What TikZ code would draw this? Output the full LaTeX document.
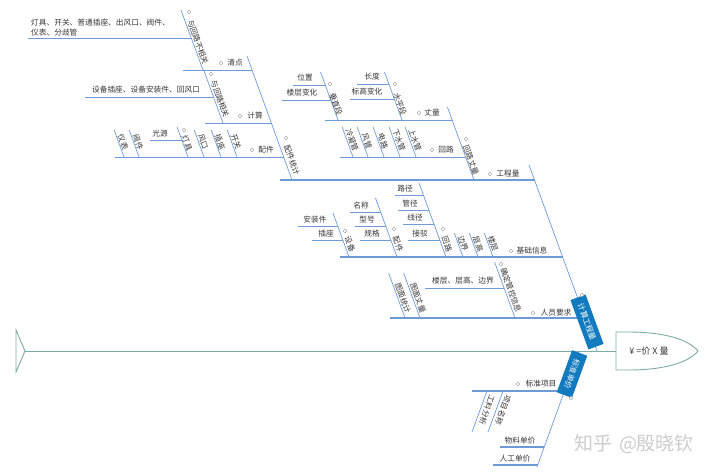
\documentclass[tikz,border=0pt]{standalone}
\usepackage{fontspec}
\newfontfamily\cjk{Noto Sans CJK SC}
\usetikzlibrary{calc}
\definecolor{lb}{RGB}{110,155,215}
\definecolor{spinec}{RGB}{125,170,165}
\definecolor{tagc}{RGB}{18,122,190}
\definecolor{tx}{RGB}{55,55,55}
\definecolor{dotc}{RGB}{150,150,150}
\definecolor{wm}{RGB}{205,205,205}
\tikzset{
 hb/.style={draw=lb, line width=0.7pt},
 hbm/.style={draw=lb, line width=1.1pt},
 lbl/.style={font=\cjk\fontsize{7.7}{10}\selectfont, text=tx, inner sep=0pt},
 dl/.style={lbl, rotate=-70},
 dlo/.style={lbl, rotate=-110},
 dot/.style={circle, draw=dotc, fill=white, line width=0.4pt, minimum size=3.6pt, inner sep=0pt},
 tagbox/.style={fill=tagc, text=white, font=\cjk\fontsize{7.7}{10}\selectfont, inner xsep=7pt, inner ysep=4.5pt},
}
\begin{document}
\begin{tikzpicture}[x=1pt,y=-1pt]
\fill[white] (0,0) rectangle (720,475);
\useasboundingbox (0,0) rectangle (720,475);

% ---------- spine, tail, head
\draw[draw=spinec, line width=0.9pt] (16,330) -- (25,351) -- (16,372) -- cycle;
\coordinate (tail) at (25,351);
\coordinate (neck) at (616,351);
\draw[draw=spinec, line width=1pt] (tail) -- (neck);
\draw[draw=spinec, line width=0.9pt, fill=white] (616,332) -- (628,332) .. controls (666,332) and (689,340) .. (698,351) .. controls (689,362) and (666,370) .. (628,370) -- (616,370) -- cycle;
\node[font=\cjk\fontsize{9}{10}\selectfont, text=tx] (head) at (649,351) {¥ =价 X 量};

% ---------- watermark
\node[font=\cjk\fontsize{19}{20}\selectfont, text=wm] (wmk) at (634,444) {知乎\hspace{7pt}@殷晓钦};

% ---------- upper bone
\coordinate (ubT) at (529,165);
\coordinate (ubB) at (597,351);
\draw[hb] (ubT) -- (ubB);

% level-1 horizontals
\draw[hbm] (280,180) -- (534.5,180);
\draw[hbm] (340,257) -- (562.5,257);
\draw[hbm] (390,318) -- (584.7,318);
\node[lbl] (gcl) at (508,174) {工程量};
\node[lbl] (jcxx) at (532,251) {基础信息};
\node[lbl] (ryyq) at (556,313) {人员要求};

% ===== under 工程量
\draw[hb] (247,56) -- (292,180);
\node[dl] (pjtj) at (292,160) {配件统计};
\draw[hb] (447.4,107) -- (474,180);
\node[dl] (hlzl) at (471,160) {回路丈量};

% under 配件统计
\draw[hb] (183,70) -- (252,70);
\node[lbl] (qd) at (235,63) {清点};
\draw[hb] (205,123) -- (271.4,123);
\node[lbl] (js) at (255,116) {计算};
\draw[hb] (115,157) -- (283.8,157);
\node[lbl] (pj) at (266,150) {配件};

\draw[hb] (181,10) -- (203,70);
\node[dl] (bxg) at (198,42) {与回路不相关};
\draw[hb] (28,38) -- (191.4,38);
\node[lbl, align=left, anchor=south west] (bxgl) at (31,36.5) {灯具、开关、普通插座、出风口、阀件、\\仪表、分歧管};

\draw[hb] (203.7,70) -- (223,123);
\node[dl] (xg) at (220,99) {与回路相关};
\draw[hb] (85,97) -- (213.5,97);
\node[lbl] (xgl) at (146,90) {设备插座、设备安装件、回风口};

\draw[hb] (227.2,130) -- (237,157);
\node[dl] (kg) at (236,142) {开关};
\draw[hb] (211.2,130) -- (221,157);
\node[dl] (cz) at (220,142) {插座};
\draw[hb] (194.2,130) -- (204,157);
\node[dl] (fk) at (203,142) {风口};
\draw[hb] (177.1,127) -- (188,157);
\node[dl] (dj) at (187,143) {灯具};
\draw[hb] (150,140) -- (181.8,140);
\node[lbl] (gy) at (160,134) {光源};
\draw[hb] (129.2,130) -- (139,157);
\node[dl] (fj) at (138,142) {阀件};
\draw[hb] (114.2,130) -- (124,157);
\node[dl] (yb) at (123,142) {仪表};

% under 回路丈量
\draw[hb] (325,120) -- (452,120);
\node[lbl] (zl) at (432,113) {丈量};
\draw[hb] (340,157) -- (465.6,157);
\node[lbl] (hl) at (446,150) {回路};

\draw[hb] (320.5,72) -- (338,120);
\node[dl] (czd) at (336,104) {垂直段};
\draw[hb] (293,85) -- (325.2,85);
\node[lbl] (wz) at (305,78) {位置};
\draw[hb] (282,100) -- (330.7,100);
\node[lbl] (lcbh) at (302,93) {楼层变化};

\draw[hb] (384.5,72) -- (402,120);
\node[dl] (spd) at (400,104) {水平段};
\draw[hb] (357,84) -- (388.9,84);
\node[lbl] (cd) at (372,77) {长度};
\draw[hb] (350,99) -- (394.3,99);
\node[lbl] (bgbh) at (367,92) {标高变化};

\draw[hb] (405.1,127) -- (416,157);
\node[dl] (ssg) at (415,140) {上水管};
\draw[hb] (389.1,127) -- (400,157);
\node[dl] (xsg) at (399,140) {下水管};
\draw[hb] (373.1,127) -- (384,157);
\node[dl] (dl1) at (383,141) {电路};
\draw[hb] (357.1,127) -- (368,157);
\node[dl] (fg) at (367,141) {风管};
\draw[hb] (342.1,127) -- (353,157);
\node[dl] (nng) at (352,140) {冷凝管};

% ===== under 基础信息
\draw[hb] (484.3,233) -- (493,257);
\node[dl] (lc) at (493,244) {楼层};
\draw[hb] (469.3,233) -- (478,257);
\node[dl] (cg) at (478,244) {层高};
\draw[hb] (454.3,233) -- (463,257);
\node[dl] (bj) at (463,244) {边界};

\draw[hb] (419,183) -- (446,257);
\node[dl] (hl2) at (447,244) {回路};
\draw[hb] (395,195) -- (423.4,195);
\node[lbl] (ljing) at (405,189) {路径};
\draw[hb] (398,210) -- (428.8,210);
\node[lbl] (gj) at (410,204) {管径};
\draw[hb] (403,224) -- (433.9,224);
\node[lbl] (xj) at (415,218) {线径};
\draw[hb] (408,240) -- (439.7,240);
\node[lbl] (jb) at (420,234) {接驳};

\draw[hb] (375.5,198) -- (397,257);
\node[dl] (pj2) at (398,244) {配件};
\draw[hb] (350,212) -- (380.6,212);
\node[lbl] (mc) at (361,206) {名称};
\draw[hb] (355,226) -- (385.7,226);
\node[lbl] (xh) at (367,220) {型号};
\draw[hb] (360,240) -- (390.8,240);
\node[lbl] (gg) at (372,234) {规格};

\draw[hb] (333,213) -- (349,257);
\node[dl] (sb) at (350,244) {设备};
\draw[hb] (298,226) -- (337.7,226);
\node[lbl] (azj) at (315,220) {安装件};
\draw[hb] (312,240) -- (343,240);
\node[lbl] (cz2) at (326,234) {插座};

% ===== under 人员要求
\draw[hb] (494.6,262) -- (515,318);
\node[dl] (qdgk) at (511,290) {确定管控信息};
\draw[hb] (425,288) -- (504,288);
\node[lbl] (lcb) at (463,281) {楼层、层高、边界};
\draw[hb] (403.6,273) -- (420,318);
\node[dl] (tmzl) at (418,298) {图面丈量};
\draw[hb] (388.6,273) -- (405,318);
\node[dl] (tmtj) at (403,298) {图面统计};

% ---------- lower bone
\coordinate (lbT) at (579,351);
\coordinate (lbB) at (537,467);
\draw[hb] (lbT) -- (lbB);
\draw[hbm] (472,391) -- (564.4,391);
\node[lbl] (bzxm) at (541,384) {标准项目};
\draw[hbm] (500,447) -- (544,447);
\node[lbl] (wldj) at (520,441) {物料单价};
\draw[hbm] (493,465) -- (537.5,465);
\node[lbl] (rgdj) at (515,459) {人工单价};

\draw[hb] (487,391) -- (472,432);
\node[dlo] (glfx) at (487,410) {工料分析};
\draw[hb] (503,391) -- (488,432);
\node[dlo] (xmmc) at (503,410) {项目名称};

% ---------- tags
\node[tagbox, rotate=-70] (ubtag) at (587,322) {计算工程量};
\node[tagbox, rotate=-110] (lbtag) at (572,374) {标准单价};

% ---------- collapse dots
\foreach \p/\n in {{582,295}/d1,{571,398}/d2,{490,174}/d3,{511,251}/d4,{533,313}/d5,
  {286,138}/d6,{466,139}/d7,{221,63}/d8,{240,116}/d9,{252,150}/d10,{189,12}/d11,
  {211,74}/d12,{184,130}/d13,{419,113}/d14,{432,150}/d15,{330,84}/d16,{395,84}/d17,
  {443,229}/d18,{394,229}/d19,{345,231}/d20,{501,264}/d21,{518,384}/d22}
  \node[dot] (\n) at (\p) {};
\end{tikzpicture}
\end{document}
